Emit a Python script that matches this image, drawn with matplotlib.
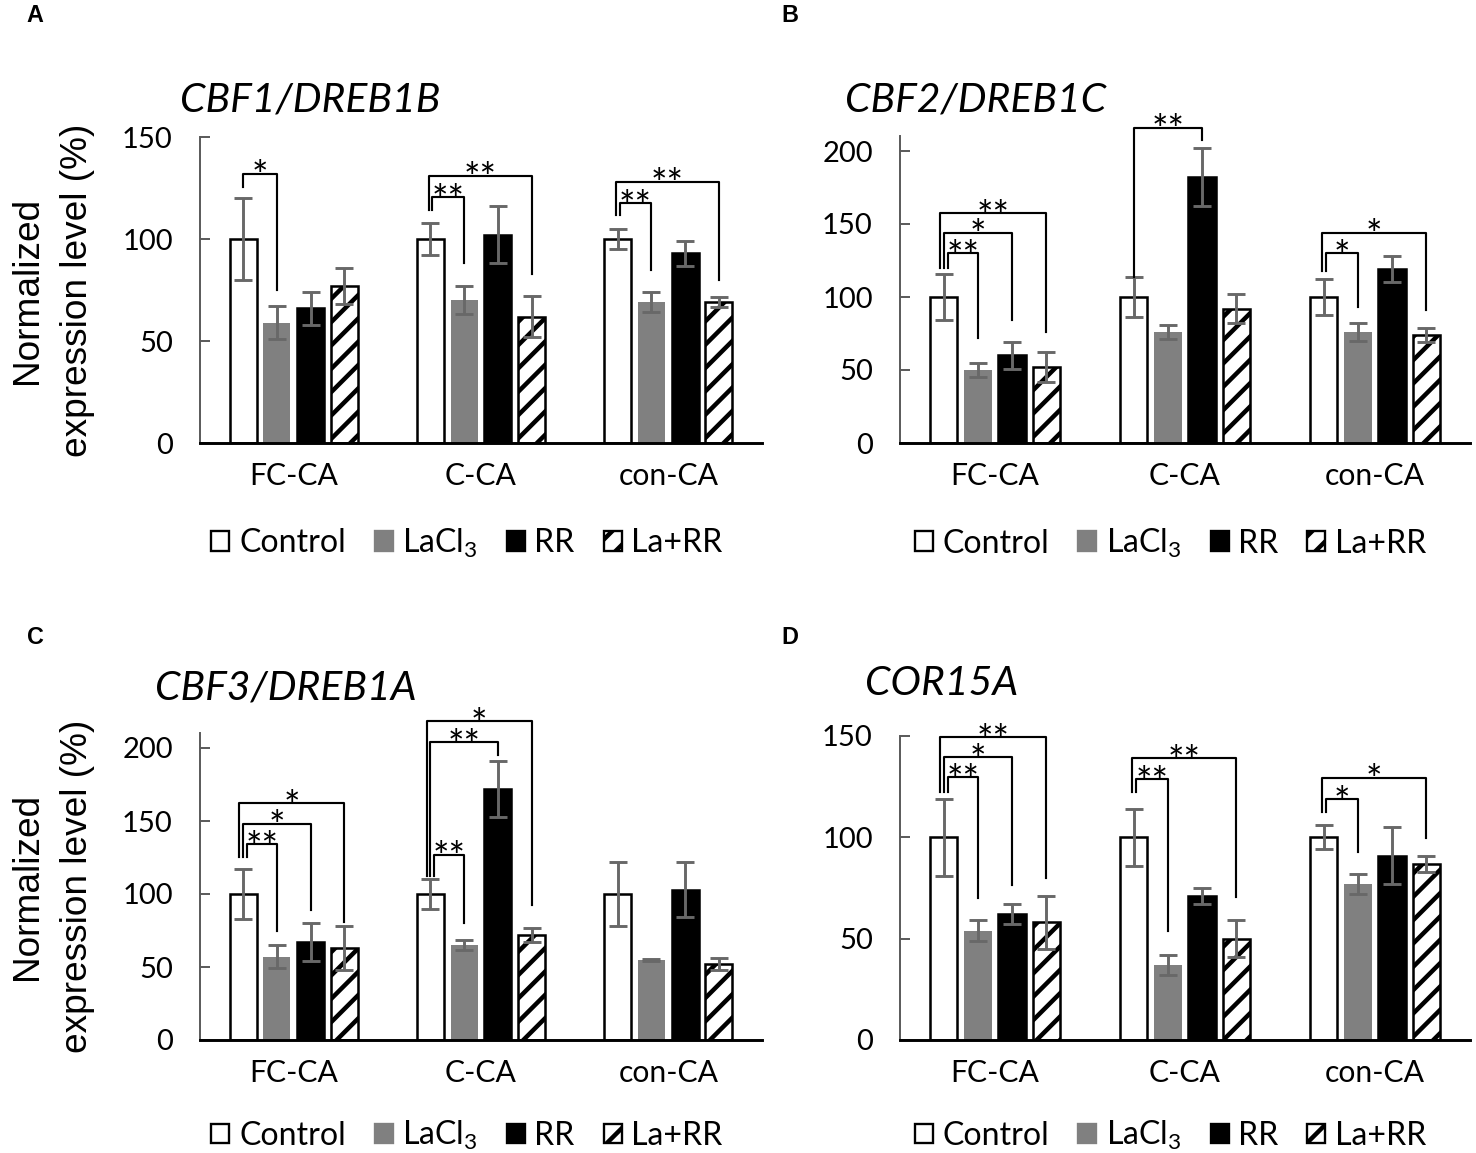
import numpy as np
import matplotlib
matplotlib.use("Agg")
import matplotlib.pyplot as plt
from matplotlib.patches import Patch

plt.rcParams['font.family'] = ['Lato', 'DejaVu Sans']
plt.rcParams['mathtext.fontset'] = 'custom'
plt.rcParams['mathtext.rm'] = 'Lato'
plt.rcParams['hatch.linewidth'] = 2.3

groups = ["FC-CA", "C-CA", "con-CA"]
treatments = ["Control", "LaCl$_3$", "RR", "La+RR"]

# rows: Control, LaCl3, RR, La+RR ; columns: FC-CA, C-CA, con-CA
cbf1_mean = [[100, 100, 100], [59, 70, 69], [66, 102, 93], [77, 62, 69]]
cbf1_err = [[20, 8, 5], [8, 7, 5], [8, 14, 6], [9, 10, 2.5]]

cbf2_mean = [[100, 100, 100], [50, 76, 76], [60, 182, 119], [52, 92, 74]]
cbf2_err = [[16, 14, 12], [5, 5, 6], [9, 20, 9], [10, 10, 5]]

cbf3_mean = [[100, 100, 100], [57, 65, 55], [67, 172, 103], [63, 72, 52]]
cbf3_err = [[17, 10, 22], [8, 3.5, 0.8], [13, 19, 19], [15, 5, 4]]

cor15_mean = [[100, 100, 100], [54, 37, 77], [62, 71, 91], [58, 50, 87]]
cor15_err = [[19, 14, 6], [5, 5, 5], [5, 4, 14], [13, 9, 4]]

# significance brackets: (group, compared treatment, height, left leg end, right leg end, label)
cbf1_sig = [(0, 1, 132, 125.5, 75, "*"),
            (1, 3, 131, 114, 83, "**"), (1, 1, 120.6, 114, 88, "**"),
            (2, 3, 128, 112, 80, "**"), (2, 1, 117.6, 112, 85, "**")]
cbf2_sig = [(0, 3, 157.5, 120, 76, "**"), (0, 2, 144, 120, 84, "*"), (0, 1, 130, 120, 72, "**"),
            (1, 2, 216, 114, 207.5, "**"),
            (2, 3, 144, 118, 91, "*"), (2, 1, 130, 118, 93, "*")]
cbf3_sig = [(0, 3, 162, 125.5, 81, "*"), (0, 2, 148, 125.5, 89, "*"), (0, 1, 134, 125.5, 75, "**"),
            (1, 3, 218.5, 112, 92.5, "*"), (1, 2, 204, 112, 195, "**"), (1, 1, 127, 112, 80, "**")]
cor15_sig = [(0, 3, 149.5, 122.5, 80, "**"), (0, 2, 139.6, 122.5, 76.5, "*"), (0, 1, 129.7, 122.5, 70, "**"),
             (1, 3, 139, 122.5, 70.7, "**"), (1, 1, 128.8, 122.5, 54, "**"),
             (2, 3, 129.4, 112.6, 99.6, "*"), (2, 1, 118.9, 112.6, 93, "*")]

face = ['white', '#808080', 'black', 'white']
edge = ['black', '#808080', 'black', 'black']
hatches = [None, None, None, '//']
step = 0.18
width = 0.145

W, H = 1476, 1153
fig = plt.figure(figsize=(W / 140, H / 140))


def panel(rect, means, errs, sig, title, title_xy, ymax, yticks, letter, letter_xy,
          ylabel=False, leg_y=-0.327):
    ax = fig.add_axes([rect[0] / W, 1 - rect[1] / H, rect[2] / W, rect[3] / H])
    x = np.arange(len(groups))
    for k in range(4):
        ax.bar(x + (k - 1.5) * step, means[k], width, yerr=errs[k],
               color=face[k], edgecolor=edge[k], hatch=hatches[k],
               linewidth=0 if k == 1 else 1.3, zorder=2,
               error_kw=dict(ecolor='#686868', elinewidth=1.5, capsize=4.5, capthick=1.5))

    # brackets
    for g in range(len(groups)):
        items = sorted([s for s in sig if s[0] == g], key=lambda s: -s[2])
        n = len(items)
        for i, (gg, j, h, yl, yr, lab) in enumerate(items):
            dx = (i - (n - 1) / 2) * 0.02
            xl = g - 1.5 * step + dx
            xr = g + (j - 1.5) * step
            ax.plot([xl, xl, xr, xr], [yl, h, h, yr], color='black', lw=1.1,
                    clip_on=False, zorder=3)
            ax.annotate(lab, ((xl + xr) / 2, h), xytext=(0, -8), textcoords='offset points',
                        ha='center', va='baseline', fontsize=20, annotation_clip=False)

    ax.set_xlim(-0.5, 2.5)
    ax.set_ylim(0, ymax)
    ax.set_yticks(yticks)
    ax.set_xticks(x)
    ax.set_xticklabels(groups, fontsize=15.5)
    ax.tick_params(axis='x', length=0, pad=10)
    ax.tick_params(axis='y', direction='in', length=5, width=1, color='#595959',
                   labelsize=15, pad=14)
    for s in ['top', 'right']:
        ax.spines[s].set_visible(False)
    ax.spines['left'].set_color('#595959')
    ax.spines['left'].set_linewidth(1)
    ax.spines['bottom'].set_color('black')
    ax.spines['bottom'].set_linewidth(1.5)
    ax.spines['bottom'].set_zorder(4)

    ax.text(title_xy[0], title_xy[1], title, transform=ax.transAxes, fontsize=21,
            style='italic', ha='left', va='center')
    if ylabel:
        ax.text(-0.263, 0.5, "Normalized\nexpression level (%)", transform=ax.transAxes,
                rotation=90, ha='center', va='center', fontsize=19,
                family='Liberation Sans', linespacing=1.55)

    handles = [Patch(facecolor=face[k], edgecolor=edge[k], hatch=hatches[k], linewidth=1.2)
               for k in range(4)]
    ax.legend(handles, treatments, loc='center', bbox_to_anchor=(0.475, leg_y), ncol=4,
              frameon=False, fontsize=16.5, handlelength=0.56, handleheight=0.56,
              handletextpad=0.3, columnspacing=0.9)

    fig.text(letter_xy[0] / W, 1 - letter_xy[1] / H, letter, weight='bold', fontsize=12,
             family='Liberation Sans', ha='center', va='center')
    return ax


panel((200, 443, 562, 306), cbf1_mean, cbf1_err, cbf1_sig, "CBF1/DREB1B", (-0.036, 1.12),
      150, [0, 50, 100, 150], "A", (35, 16), ylabel=True)
panel((900, 443, 570, 306.6), cbf2_mean, cbf2_err, cbf2_sig, "CBF2/DREB1C", (-0.096, 1.119),
      210, [0, 50, 100, 150, 200], "B", (790, 16))
panel((200, 1040, 562, 306.6), cbf3_mean, cbf3_err, cbf3_sig, "CBF3/DREB1A", (-0.08, 1.148),
      210, [0, 50, 100, 150, 200], "C", (35, 638), ylabel=True, leg_y=-0.312)
panel((900, 1040, 570, 304), cor15_mean, cor15_err, cor15_sig, "COR15A", (-0.061, 1.174),
      150, [0, 50, 100, 150], "D", (790, 638), leg_y=-0.315)

fig.savefig("out.png", dpi=140)
